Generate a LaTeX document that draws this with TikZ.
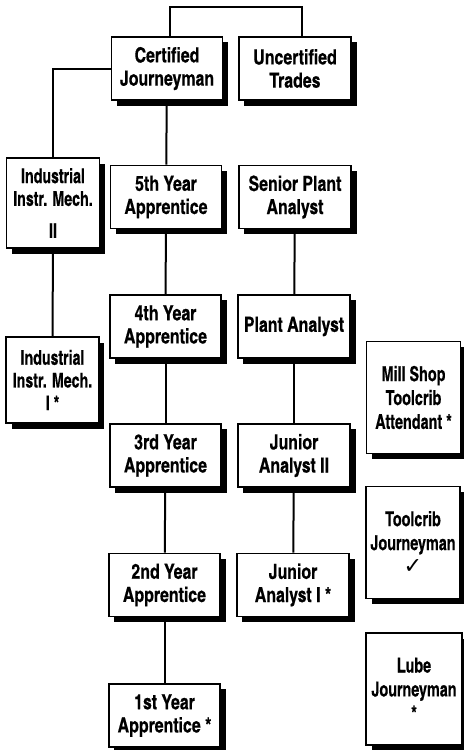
\documentclass[tikz,border=0pt]{standalone}
\usepackage{fontspec}
\setmainfont{TeX Gyre Heros Cn}[FakeStretch=0.93,BoldFeatures={FakeBold=0.4}]
\newfontfamily\narrowfont{TeX Gyre Heros Cn}[FakeStretch=0.85,BoldFeatures={FakeBold=0.4}]
\newfontfamily\symfont{DejaVu Sans}
\usepackage{tikz}
\usetikzlibrary{shadows}

\begin{document}
\begin{tikzpicture}[x=0.03cm,y=-0.03cm,
		job/.style={draw,fill=white,line width=0.045cm,align=center,
			font=\fontsize{17.8}{19.8}\selectfont\bfseries,inner sep=0pt,
			minimum width=3.33cm,minimum height=1.9cm,
			drop shadow={shadow xshift=0.165cm,shadow yshift=-0.165cm,fill=black,opacity=1}},
		side/.style={job,font=\narrowfont\fontsize{17.4}{19.4}\selectfont\bfseries,minimum width=2.78cm,minimum height=2.65cm},
		tall/.style={job,font=\narrowfont\fontsize{17.6}{20.4}\selectfont\bfseries,minimum width=2.82cm,minimum height=3.36cm},
		link/.style={line width=0.06cm}]
		\useasboundingbox (0,0) rectangle (463,750);
		\node[job] (cert) at (167,68.5) {Certified\\Journeyman};
		\node[job,minimum width=3.36cm] (uncert) at (295,68.5) {Uncertified\\Trades};
		\node[side,minimum height=2.7cm] (ind2) at (53,203) {Industrial\\Instr. Mech.\\[8pt]II};
		\node[side,minimum height=2.58cm] (ind1) at (52.5,380) {Industrial\\Instr. Mech.\\I *};
		\node[job] (yr5) at (166,197) {5th Year\\Apprentice};
		\node[job] (yr4) at (165.5,326.5) {4th Year\\Apprentice};
		\node[job] (yr3) at (165.5,455.5) {3rd Year\\Apprentice};
		\node[job] (yr2) at (164.5,585) {2nd Year\\Apprentice};
		\node[job] (yr1) at (164.5,715.5) {1st Year\\Apprentice *};
		\node[job,minimum width=3.36cm] (senior) at (295,197) {Senior Plant\\Analyst};
		\node[job,minimum width=3.36cm] (plant) at (294,326.5) {Plant Analyst};
		\node[job,minimum width=3.36cm] (jr2) at (294,455.5) {Junior\\Analyst II};
		\node[job,minimum width=3.36cm] (jr1) at (293,585) {Junior\\Analyst I *};
		\node[tall] (mill) at (413.5,397.5) {Mill Shop\\Toolcrib\\Attendant *};
		\node[tall] (tool) at (413,542.5) {Toolcrib\\Journeyman\\{\symfont\mdseries\fontsize{19}{20}\selectfont ✓}};
		\node[tall,minimum width=2.88cm] (lube) at (414,689) {Lube\\Journeyman\\*};
		\draw[link] ([xshift=0.09cm]cert.north) -- ++(0,-29) -| ([xshift=0.21cm]uncert.north);
		\draw[link] (cert.west) -| (ind2.north);
		\draw[link] (ind2) -- (ind1);
		\draw[link] (cert) -- (yr5);
		\draw[link] (yr5) -- (yr4);
		\draw[link] (yr4) -- (yr3);
		\draw[link] (yr3) -- (yr2);
		\draw[link] (yr2) -- (yr1);
		\draw[link] (senior) -- (plant);
		\draw[link] (plant) -- (jr2);
		\draw[link] (jr2) -- (jr1);
\end{tikzpicture}
\end{document}
